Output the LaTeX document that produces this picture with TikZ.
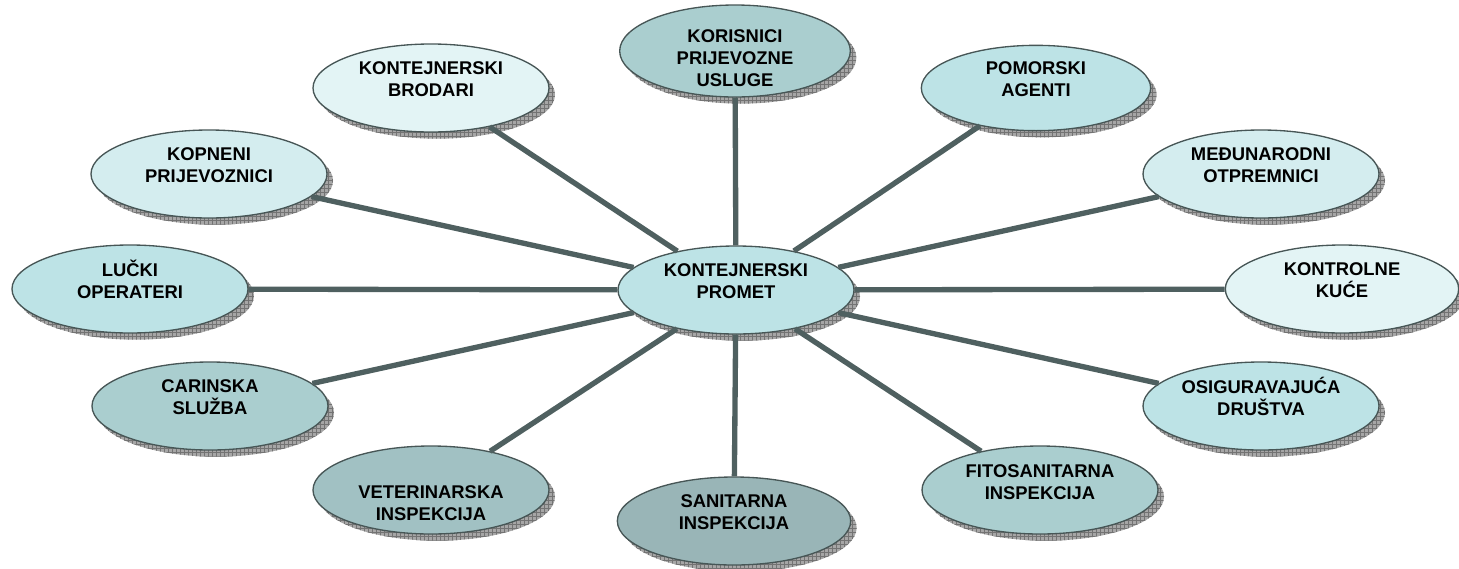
\documentclass[tikz,border=0pt]{standalone}
\usepackage{fontspec}
\setmainfont{Liberation Sans}
\usepackage{tikz}
\usetikzlibrary{shapes.geometric}
\usetikzlibrary{shadows}
\usetikzlibrary{patterns}
\usetikzlibrary{positioning}
\definecolor{toneA}{HTML}{E3F4F5}
\definecolor{toneB}{HTML}{D4EDEF}
\definecolor{toneC}{HTML}{BDE3E6}
\definecolor{toneD}{HTML}{AACECF}
\definecolor{toneE}{HTML}{A1C1C3}
\definecolor{toneF}{HTML}{99B5B7}
\definecolor{linkgrey}{HTML}{4F6060}
\tikzset{bubble/.style = {ellipse, draw=linkgrey!90!black, line width=1pt,
                          minimum width=177pt, minimum height=66pt, inner sep=0pt,
                          drop shadow={shadow xshift=4.5pt, shadow yshift=-5pt,
                                       fill=black!35, opacity=1},
                          drop shadow={shadow xshift=4.5pt, shadow yshift=-5pt,
                                       pattern=grid, pattern color=black!55, opacity=1}},
         txt/.style = {align=center, inner sep=0pt,
                       font=\fontsize{13.8}{16.5}\selectfont\bfseries},
         link/.style = {draw=linkgrey, line width=4pt}}

\begin{document}
\begin{tikzpicture}[x=0.75pt, y=-0.75pt]
    \useasboundingbox (0, 0) rectangle (1459, 568);
    % ellipses
    \node [bubble, fill=toneC] (promet) at (736, 290) {};
    \node [bubble, fill=toneD, minimum width=173pt, minimum height=69pt] (korisnici) at (735, 51) {};
    \node [bubble, fill=toneA] (brodari) at (431, 88) {};
    \node [bubble, fill=toneC, minimum width=172pt, minimum height=64pt] (pomorski) at (1036, 88) {};
    \node [bubble, fill=toneB] (kopneni) at (209, 174) {};
    \node [bubble, fill=toneB] (medjunarodni) at (1261, 174) {};
    \node [bubble, fill=toneC] (lucki) at (130, 289) {};
    \node [bubble, fill=toneA, minimum width=175pt] (kontrolne) at (1342, 289) {};
    \node [bubble, fill=toneD] (carinska) at (210, 406) {};
    \node [bubble, fill=toneC] (osiguravajuca) at (1261, 406) {};
    \node [bubble, fill=toneE] (veterinarska) at (431, 490) {};
    \node [bubble, fill=toneF, minimum width=175pt] (sanitarna) at (734, 521) {};
    \node [bubble, fill=toneD] (fitosanitarna) at (1040, 490) {};
    % texts
    \node [txt] (prometTxt) at ([yshift=7pt]promet.center) {KONTEJNERSKI\\PROMET};
    \node [txt] (korisniciTxt) at ([yshift=-5pt]korisnici.center) {KORISNICI\\PRIJEVOZNE\\USLUGE};
    \node [txt] (brodariTxt) at ([yshift=7pt]brodari.center) {KONTEJNERSKI\\BRODARI};
    \node [txt] (pomorskiTxt) at ([yshift=7pt]pomorski.center) {POMORSKI\\AGENTI};
    \node [txt] (kopneniTxt) at ([yshift=7pt]kopneni.center) {KOPNENI\\PRIJEVOZNICI};
    \node [txt] (medjunarodniTxt) at ([yshift=7pt]medjunarodni.center) {MEĐUNARODNI\\OTPREMNICI};
    \node [txt] (luckiTxt) at ([yshift=7pt]lucki.center) {LUČKI\\OPERATERI};
    \node [txt] (kontrolneTxt) at ([yshift=7pt]kontrolne.center) {KONTROLNE\\KUĆE};
    \node [txt] (carinskaTxt) at ([yshift=7pt]carinska.center) {CARINSKA\\SLUŽBA};
    \node [txt] (osiguravajucaTxt) at ([yshift=7pt]osiguravajuca.center) {OSIGURAVAJUĆA\\DRUŠTVA};
    \node [txt] (veterinarskaTxt) at ([yshift=-10pt]veterinarska.center) {VETERINARSKA\\INSPEKCIJA};
    \node [txt] (sanitarnaTxt) at ([yshift=7pt]sanitarna.center) {SANITARNA\\INSPEKCIJA};
    \node [txt] (fitosanitarnaTxt) at ([yshift=6pt]fitosanitarna.center) {FITOSANITARNA\\INSPEKCIJA};
    % spokes
    \draw [link] (promet) -- (korisnici);
    \draw [link] (promet) -- (brodari);
    \draw [link] (promet) -- (pomorski);
    \draw [link] (promet) -- (kopneni);
    \draw [link] (promet) -- (medjunarodni);
    \draw [link] (promet) -- (lucki);
    \draw [link] (promet) -- (kontrolne);
    \draw [link] (promet) -- (carinska);
    \draw [link] (promet) -- (osiguravajuca);
    \draw [link] (promet) -- (veterinarska);
    \draw [link] (promet) -- (sanitarna);
    \draw [link] (promet) -- (fitosanitarna);
\end{tikzpicture}
\end{document}
